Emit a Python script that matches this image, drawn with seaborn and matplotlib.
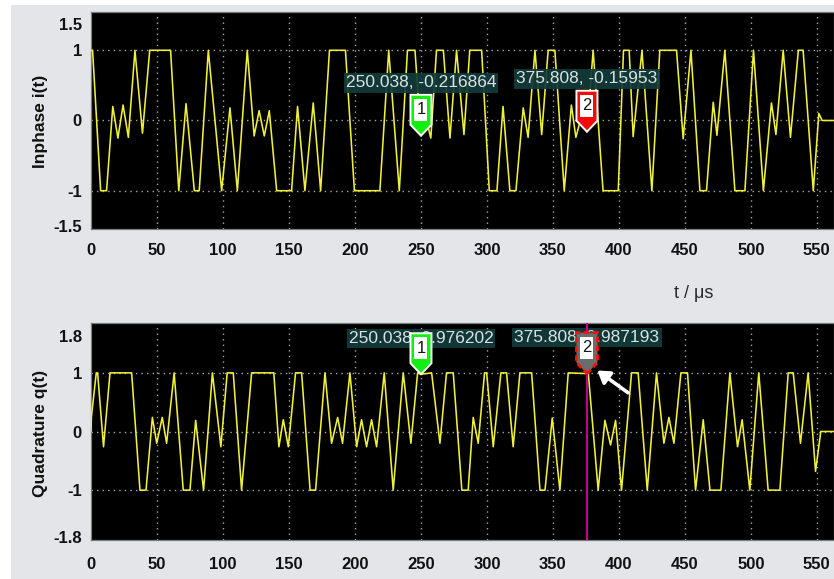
import numpy as np
import pandas as pd
import seaborn as sns
import matplotlib
matplotlib.use("Agg")
import matplotlib.pyplot as plt
from matplotlib.patches import Polygon, Rectangle
from matplotlib.transforms import ScaledTranslation

# ---- In-phase branch i(t): vertices of the baseband trace (t in microseconds) ----
i_t = [0.0, 1.2, 7.3, 11.8, 16.5, 20.4, 24.3, 28.3, 33.3, 39.0,
       44.5, 60.3, 66.5, 72.0, 78.3, 82.0, 88.9, 99.0, 105.3, 110.9,
       118.4, 123.6, 127.4, 131.3, 135.1, 140.7, 152.0, 156.5, 162.1, 168.4,
       174.0, 180.7, 192.8, 199.6, 218.9, 225.6, 233.6, 239.8, 245.5, 250.038,
       254.0, 257.5, 261.8, 267.0, 272.0, 277.0, 282.6, 287.0, 296.0, 301.8,
       307.6, 312.2, 317.4, 322.0, 327.5, 331.2, 336.4, 341.5, 346.4, 351.5,
       358.6, 364.0, 367.4, 371.5, 375.808, 380.5, 388.0, 399.5, 403.5, 407.8,
       410.8, 417.5, 425.0, 431.0, 443.7, 448.7, 454.6, 461.4, 466.4, 471.5,
       474.3, 480.3, 487.9, 495.5, 502.0, 509.5, 515.6, 519.0, 524.5, 530.0,
       536.0, 539.6, 547.3, 551.5, 554.0, 563.0]
i_v = [1.0, 1.0, -1.0, -1.0, 0.2, -0.25, 0.22, -0.24, 1.0, -0.18,
       1.0, 1.0, -1.0, 0.24, -1.0, -1.0, 1.0, -1.0, 0.18, -1.0,
       1.0, -0.22, 0.14, -0.22, 0.14, -1.0, -1.0, 0.2, -1.0, 0.25,
       -1.0, 1.0, 1.0, -1.0, -1.0, 1.0, -1.0, 1.0, 1.0, -0.216864,
       0.02, -0.25, 1.0, 1.0, -0.25, 1.0, -0.2, 1.0, 1.0, -1.0,
       -1.0, 0.2, -1.0, -1.0, 0.18, -0.24, 1.0, -0.2, 1.0, 1.0,
       -1.0, 0.22, -0.24, 0.05, -0.15953, 1.0, -1.0, -1.0, 1.0, 1.0,
       -0.23, 1.0, -1.0, 1.0, 1.0, -0.26, 1.0, -1.0, -1.0, 0.26,
       -0.21, 1.0, -1.0, -1.0, 1.0, -1.0, 0.25, -0.2, 1.0, -0.24,
       1.0, 1.0, -1.0, 0.1, 0.0, 0.0]

# ---- Quadrature branch q(t) ----
q_t = [0.0, 0.3, 4.0, 5.0, 9.5, 14.4, 30.8, 37.1, 41.7, 46.5,
       49.8, 54.0, 57.3, 63.0, 69.9, 75.0, 79.3, 85.3, 92.0, 98.4,
       103.2, 107.8, 114.1, 121.7, 138.5, 142.4, 145.7, 149.5, 155.0, 159.6,
       166.0, 170.2, 177.3, 182.3, 186.9, 190.6, 196.2, 201.3, 205.0, 208.8,
       212.6, 216.4, 222.2, 229.0, 236.6, 242.4, 247.5, 250.038, 258.1, 264.4,
       269.4, 274.5, 281.0, 285.8, 289.6, 293.4, 298.2, 299.8, 304.8, 310.6,
       314.9, 319.9, 325.0, 333.9, 340.2, 344.0, 349.5, 355.3, 361.6, 375.808,
       376.8, 384.3, 389.4, 393.7, 397.5, 402.0, 409.6, 414.6, 421.5, 428.5,
       434.1, 437.9, 441.7, 447.0, 452.0, 458.1, 463.9, 469.0, 477.3, 484.1,
       489.9, 493.4, 499.2, 506.0, 513.1, 522.0, 528.3, 532.1, 537.6, 543.4,
       549.0, 553.0, 563.0]
q_v = [0.0, 0.25, 1.0, 1.0, -0.26, 1.0, 1.0, -1.0, -1.0, 0.24,
       -0.2, 0.24, -0.2, 1.0, -1.0, -1.0, 0.19, -1.0, 1.0, -0.26,
       1.0, 1.0, -1.0, 1.0, 1.0, -0.26, 0.2, -0.26, 1.0, 1.0,
       -1.0, -1.0, 1.0, -0.2, 0.24, -0.2, 1.0, -0.26, 0.2, -0.26,
       0.2, -0.26, 1.0, -1.0, 1.0, -0.2, 1.0, 0.976202, 1.0, -0.2,
       1.0, 1.0, -1.0, -1.0, 0.24, -0.2, 1.0, 1.0, -0.26, 1.0,
       1.0, -0.26, 1.0, 1.0, -1.0, -1.0, 0.23, -1.0, 1.0, 0.987193,
       1.0, -1.0, 0.19, -0.23, 0.19, -1.0, 1.0, 1.0, -1.0, 1.0,
       -0.2, 0.24, -0.2, 1.0, 1.0, -1.0, 0.2, -1.0, -1.0, 1.0,
       -0.26, 0.2, -1.0, 1.0, -1.0, -1.0, 1.0, 1.0, -0.2, 1.0,
       -0.68, 0.0, 0.0]

# ---- Cursor readouts ----
marker_t = [250.038, 375.808]
marker_i = [-0.216864, -0.15953]
marker_q = [0.976202, 0.987193]
marker_ids = ["1", "2"]

x_ticks = [0, 50, 100, 150, 200, 250, 300, 350, 400, 450, 500, 550]
i_ticks = [-1.5, -1, 0, 1, 1.5]
q_ticks = [-1.8, -1, 0, 1, 1.8]
i_tick_labels = ["-1.5", "-1", "0", "1", "1.5"]
q_tick_labels = ["-1.8", "-1", "0", "1", "1.8"]

sns.set_style("dark", {"axes.facecolor": "black"})
plt.rcParams["font.family"] = ["Liberation Sans", "DejaVu Sans"]

W, H = 834, 579
fig = plt.figure(figsize=(W / 100, H / 100), dpi=100)
fig.patch.set_facecolor("white")
fig.patches.append(Rectangle((11 / W, 0), 1, 1 - 5 / H, transform=fig.transFigure,
                             facecolor="#e3e5e9", edgecolor="none", zorder=-10))

ax1 = fig.add_axes([91 / W, 1 - 229 / H, (W - 91) / W, 217 / H])
ax2 = fig.add_axes([91 / W, 1 - 540 / H, (W - 91) / W, 217 / H])

TRACE = "#f0f03a"
df_i = pd.DataFrame({"t": i_t, "v": i_v})
df_q = pd.DataFrame({"t": q_t, "v": q_v})
sns.lineplot(data=df_i, x="t", y="v", ax=ax1, color=TRACE, lw=1.15,
             estimator=None, sort=False, zorder=3)
sns.lineplot(data=df_q, x="t", y="v", ax=ax2, color=TRACE, lw=1.15,
             estimator=None, sort=False, zorder=3)

PX = 1 / 100.0  # one pixel in inches


def draw_flag(ax, t, v, face, number, edge="white", ls="-", elw=1.4, z=8):
    trans = fig.dpi_scale_trans + ScaledTranslation(t, v, ax.transData)
    w = 10.5
    verts = [(0, 0), (w, 11), (w, 41), (-w, 41), (-w, 11)]
    ax.add_patch(Polygon([(x * PX, y * PX) for x, y in verts], closed=True,
                         transform=trans, facecolor=face, edgecolor=edge,
                         lw=elw, ls=ls, zorder=z, clip_on=False))
    ax.add_patch(Rectangle((-6.5 * PX, 15 * PX), 13 * PX, 22 * PX, transform=trans,
                           facecolor="white", edgecolor="none", zorder=z + 0.1,
                           clip_on=False))
    ax.text(0, 26 * PX, number, transform=trans, ha="center", va="center",
            fontsize=12, color="#151515", zorder=z + 0.2)


def readout(ax, t, v, text, dy_pt):
    ax.annotate(text, xy=(t, v), xytext=(0, dy_pt), textcoords="offset points",
                ha="center", va="center", fontsize=12.5, color="#d9e2e2",
                zorder=6,
                bbox=dict(boxstyle="square,pad=0.12", facecolor="#123b3a",
                          edgecolor="none", alpha=0.92))


# top panel cursors
for t, v, lab in zip(marker_t, marker_i, marker_ids):
    readout(ax1, t, v, f"{t:g}, {v:g}", 38)
draw_flag(ax1, marker_t[0], marker_i[0], "#10f010", marker_ids[0])
draw_flag(ax1, marker_t[1], marker_i[1], "#f50a0a", marker_ids[1])

# bottom panel cursors
for t, v in zip(marker_t, marker_q):
    readout(ax2, t, v, f"{t:g}, {v:g}", 26)
ax2.axvline(marker_t[1], color="#c8008f", lw=1.4, zorder=7)
draw_flag(ax2, marker_t[0], marker_q[0], "#10f010", marker_ids[0])
draw_flag(ax2, marker_t[1], marker_q[1], "#6c6c6c", marker_ids[1],
          edge="#ff1010", ls=(0, (2, 1.2)), elw=2.0, z=9)
ax2.annotate("", xy=(383.6, 1.04), xytext=(407.0, 0.66),
             arrowprops=dict(arrowstyle="-|>,head_length=0.7,head_width=0.45",
                             color="white", lw=2.6, shrinkA=0, shrinkB=0),
             zorder=10)

for ax, lim, ticks, labels in ((ax1, 1.545, i_ticks, i_tick_labels),
                               (ax2, 1.85, q_ticks, q_tick_labels)):
    ax.set_facecolor("black")
    ax.set_xlim(0, 563)
    ax.set_ylim(-lim, lim)
    ax.set_xticks(x_ticks)
    ax.set_xticklabels([str(x) for x in x_ticks])
    ax.set_yticks(ticks)
    ax.set_yticklabels(labels)
    ax.set_xlabel("")
    ax.set_ylabel("")
    ax.grid(False)
    for x in x_ticks[1:]:
        ax.axvline(x, color="#a8a8a8", lw=1.0, ls=(0, (1, 3)), zorder=1)
    for y in (-1, 0, 1):
        ax.axhline(y, color="#a8a8a8", lw=1.0, ls=(0, (1, 3)), zorder=1)
    ax.tick_params(axis="both", length=0, labelsize=12, labelcolor="#111111")
    ax.tick_params(axis="y", pad=6.5)
    for lbl in ax.get_xticklabels() + ax.get_yticklabels():
        lbl.set_fontweight("bold")
    for s in ax.spines.values():
        s.set_color("#7c7c7c")
        s.set_linewidth(0.9)

ax1.tick_params(axis="x", pad=10)
ax2.tick_params(axis="x", pad=12)

# limit labels sit just inside the frame
for ax, shift in ((ax1, 9), (ax2, 10)):
    top = ax.get_yticklabels()[-1]
    top.set_transform(top.get_transform() + ScaledTranslation(0, -shift * PX, fig.dpi_scale_trans))

fig.text(40 / W, 1 - 121 / H, "Inphase i(t)", rotation=90, ha="center", va="center",
         fontsize=12.5, fontweight="bold", color="#111111")
fig.text(40 / W, 1 - 433 / H, "Quadrature q(t)", rotation=90, ha="center", va="center",
         fontsize=12.5, fontweight="bold", color="#111111")
fig.text(694 / W, 1 - 294 / H, "t / μs", ha="center", va="center",
         fontsize=13, color="#2a2a2a")

fig.savefig("out.png", dpi=100, facecolor=fig.get_facecolor())
